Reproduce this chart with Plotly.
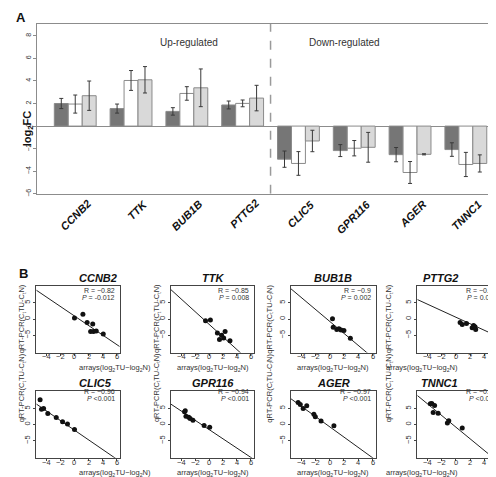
import plotly.graph_objects as go

W, H = 496, 477

# ---------------- Panel A data ----------------
genes = ["CCNB2", "TTK", "BUB1B", "PTTG2", "CLIC5", "GPR116", "AGER", "TNNC1"]
fc_dark = [2.0, 1.55, 1.3, 1.87, -2.93, -2.17, -2.53, -2.08]
err_dark = [0.45, 0.4, 0.33, 0.35, 0.72, 0.53, 0.63, 0.6]
fc_white = [1.95, 4.04, 2.89, 2.01, -3.31, -1.96, -4.11, -3.4]
err_white = [0.8, 0.88, 0.6, 0.3, 1.05, 0.68, 0.97, 1.07]
fc_light = [2.69, 4.1, 3.39, 2.48, -1.32, -1.88, -2.5, -3.31]
err_light = [1.3, 1.17, 1.67, 1.13, 0.95, 1.32, 0.05, 0.76]
a_yticks = [-6, -4, -2, 0, 2, 4, 6, 8]

# ---------------- Panel B data ----------------
ccnb2_x = [0.0, 1.2, 1.8, 2.6, 2.3, 2.7, 3.1, 4.1]
ccnb2_y = [0.3, 1.5, -1.1, -1.5, -3.8, -3.8, -3.7, -4.6]
ttk_x = [-0.5, 0.2, 1.2, 1.5, 1.8, 2.1, 2.3, 3.0]
ttk_y = [-0.5, -0.3, -4.3, -6.3, -5.0, -5.8, -3.8, -6.7]
bub1b_x = [0.4, 0.5, 1.0, 1.3, 1.6, 2.0, 2.9]
bub1b_y = [0.1, -2.5, -3.2, -3.0, -3.4, -3.5, -5.9]
pttg2_x = [0.6, 0.9, 1.5, 2.3, 2.5, 2.7, 2.8]
pttg2_y = [-1.1, -1.7, -1.4, -2.7, -2.0, -2.4, -3.2]
clic5_x = [-4.9, -4.7, -4.4, -3.8, -2.6, -1.7, -1.0, 0.0]
clic5_y = [7.7, 4.7, 5.0, 3.4, 2.2, 0.9, 0.2, -1.5]
gpr116_x = [-3.5, -3.4, -3.3, -2.9, -2.7, -2.3, -0.7, 0.1]
gpr116_y = [4.0, 4.3, 2.6, 2.3, 1.9, 1.3, -0.3, -0.8]
ager_x = [-4.4, -4.1, -3.7, -3.2, -2.2, -2.0, -1.2, 0.6]
ager_y = [6.8, 6.2, 5.0, 5.8, 3.2, 2.4, 1.1, -0.4]
tnnc1_x = [-3.6, -3.4, -3.0, -3.2, -2.5, -1.2, -1.0, 0.9]
tnnc1_y = [6.4, 6.5, 5.9, 3.7, 3.5, 0.5, 1.2, -1.1]

scatter_x = [ccnb2_x, ttk_x, bub1b_x, pttg2_x, clic5_x, gpr116_x, ager_x, tnnc1_x]
scatter_y = [ccnb2_y, ttk_y, bub1b_y, pttg2_y, clic5_y, gpr116_y, ager_y, tnnc1_y]
fit_slope = [-1.46, -1.95, -1.85, -1.0, -1.49, -1.44, -1.6, -1.8]
fit_intercept = [0.93, -1.6, -0.7, 0.56, -1.74, -1.53, -0.67, -0.79]
r_text = ["−0.82", "−0.85", "−0.9", "−0.84", "−0.96", "−0.94", "−0.97", "−0.94"]
p_text = ["= -0.012", "= 0.008", "= 0.002", "= 0.009", "<0.001", "<0.001", "<0.001", "<0.001"]
b_xticks = [-4, -2, 0, 2, 4, 6]
b_xticklabels = ["−4", "−2", "0", "2", "4", "6"]
b_yticks = [-5, 0, 5]
b_xrange = [-5.44, 6.44]
b_yrange = [-10.3, 10.3]

FONT = "Liberation Sans, Arial, sans-serif"
AX_GRAY = "#8c8c8c"
SMALL = 7.5


def fx(p):
    return p / W


def fy(p):
    return 1 - p / H


fig = go.Figure()

# ---------------- Panel A ----------------
for vals, errs, fill in [(fc_dark, err_dark, "#767676"),
                         (fc_white, err_white, "#ffffff"),
                         (fc_light, err_light, "#d9d9d9")]:
    fig.add_trace(go.Bar(
        x=genes, y=vals, marker=dict(color=fill, line=dict(color="#8a8a8a", width=1)),
        error_y=dict(type="data", array=errs, color="#3a3a3a", thickness=1, width=2),
        showlegend=False, xaxis="x", yaxis="y"))

a_left, a_right, a_top, a_bottom = 29.3, 493, 16, 187
layout = dict(
    width=W, height=H, margin=dict(l=0, r=0, t=0, b=0),
    paper_bgcolor="white", plot_bgcolor="white",
    font=dict(family=FONT, color="#222"),
    barmode="group", bargap=0.25, bargroupgap=0,
    showlegend=False,
    xaxis=dict(domain=[fx(a_left), fx(a_right)], anchor="y", type="category",
               range=[-0.68, 7.63], showline=True, linecolor=AX_GRAY, linewidth=1,
               mirror=True, ticks="", showticklabels=False, showgrid=False),
    yaxis=dict(domain=[fy(a_bottom), fy(a_top)], anchor="x", range=[-6, 9.05],
               tickvals=a_yticks, tickangle=-90, ticks="outside", ticklen=3,
               tickcolor=AX_GRAY, tickfont=dict(size=7, color="#333"),
               showline=True, linecolor=AX_GRAY, linewidth=1, mirror=True,
               zeroline=True, zerolinecolor=AX_GRAY, zerolinewidth=1, showgrid=False),
)

shapes = [dict(type="line", xref="x", yref="y", x0=3.5, x1=3.5, y0=-6, y1=9.05,
               line=dict(color="#9a9a9a", width=1.5, dash="dash"))]
annotations = [
    dict(text="<b>A</b>", x=fx(6), y=fy(0), xref="paper", yref="paper",
         xanchor="left", yanchor="top", showarrow=False, font=dict(size=13, color="#111")),
    dict(text="<b>log<sub>2</sub>FC</b>", x=fx(11), y=fy(101), xref="paper", yref="paper",
         textangle=-90, showarrow=False, font=dict(size=11, color="#111")),
    dict(text="Up-regulated", x=fx(150), y=fy(27), xref="paper", yref="paper",
         showarrow=False, font=dict(size=10, color="#333")),
    dict(text="Down-regulated", x=fx(374), y=fy(27), xref="paper", yref="paper",
         showarrow=False, font=dict(size=10, color="#333")),
    dict(text="<b>B</b>", x=fx(9), y=fy(258), xref="paper", yref="paper",
         xanchor="left", yanchor="top", showarrow=False, font=dict(size=13, color="#111")),
]
# rotated gene labels under the bars
for g in genes:
    annotations.append(dict(
        text=f"<b><i>{g}</i></b>", x=g, xref="x", xshift=21, y=fy(188), yref="paper",
        xanchor="right", yanchor="top", textangle=-45, showarrow=False,
        font=dict(size=11, color="#111")))

# ---------------- Panel B ----------------
cols = [(28.3, 111.7), (163, 246), (282.7, 367.7), (409.3, 493.5)]
rows = [(279.3, 346.7), (385.7, 452.7)]

for i, g in enumerate(genes):
    n = i + 2
    r, c = divmod(i, 4)
    l, rr = cols[c]
    t, b = rows[r]
    xa, ya = f"x{n}", f"y{n}"
    layout[f"xaxis{n}"] = dict(
        domain=[fx(l), fx(rr)], anchor=ya, range=b_xrange, tickvals=b_xticks,
        ticks="outside", ticklen=2, tickcolor="#444", showline=True, linecolor="#444",
        linewidth=1, mirror=True, showgrid=False, zeroline=False, showticklabels=False)
    layout[f"yaxis{n}"] = dict(
        domain=[fy(b), fy(t)], anchor=xa, range=b_yrange, tickvals=b_yticks,
        tickangle=-90, ticks="outside", ticklen=2, tickcolor="#444", showline=True,
        linecolor="#444", linewidth=1, mirror=True, showgrid=False, zeroline=False,
        tickfont=dict(size=SMALL, color="#333"))
    fig.add_trace(go.Scatter(
        x=b_xrange, y=[fit_intercept[i] + fit_slope[i] * v for v in b_xrange],
        mode="lines", line=dict(color="#222", width=1), xaxis=xa, yaxis=ya,
        showlegend=False, hoverinfo="skip"))
    fig.add_trace(go.Scatter(
        x=scatter_x[i], y=scatter_y[i], mode="markers",
        marker=dict(color="#111", size=5), xaxis=xa, yaxis=ya, showlegend=False))
    cx = (l + rr) / 2
    for tv, tl in zip(b_xticks, b_xticklabels):
        annotations.append(dict(
            text=tl, x=tv, xref=xa, y=fy(b + 10), yref="paper",
            showarrow=False, borderpad=0, font=dict(size=SMALL, color="#333")))
    annotations += [
        dict(text=f"<b><i>{g}</i></b>", x=fx(cx), y=fy(t - 1), xref="paper", yref="paper",
             yanchor="bottom", showarrow=False, borderpad=0, font=dict(size=11, color="#111")),
        dict(text=f"R = {r_text[i]}", x=fx(rr - 4), y=fy(t + 4.5), xref="paper", yref="paper",
             xanchor="right", showarrow=False, borderpad=0, font=dict(size=7, color="#333")),
        dict(text=f"<i>P</i> {p_text[i]}", x=fx(rr - 4), y=fy(t + 12), xref="paper",
             yref="paper", xanchor="right", showarrow=False, borderpad=0,
             font=dict(size=7, color="#333")),
        dict(text="qRT-PCR(C<sub>t</sub>TU-C<sub>t</sub>N)", x=fx(l - 21), y=fy((t + b) / 2),
             xref="paper", yref="paper", textangle=-90, showarrow=False,
             font=dict(size=SMALL, color="#333")),
        dict(text="arrays(log<sub>2</sub>TU−log<sub>2</sub>N)", x=fx(cx), y=fy(b + 21.5),
             xref="paper", yref="paper", showarrow=False, borderpad=0,
             font=dict(size=SMALL, color="#333")),
    ]

layout["shapes"] = shapes
layout["annotations"] = annotations
fig.update_layout(**layout)
fig.write_html("out.html")
